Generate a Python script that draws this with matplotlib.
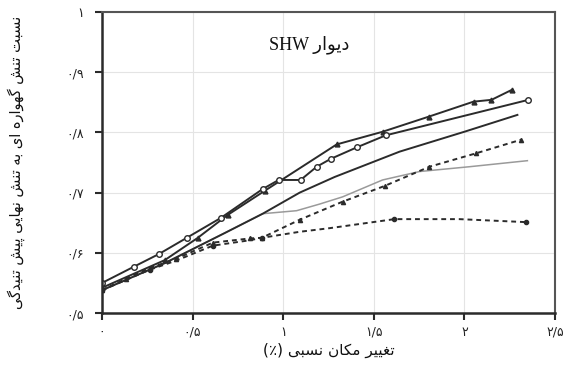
import matplotlib
matplotlib.use('Agg')
import matplotlib.pyplot as plt
from matplotlib.ticker import FuncFormatter, MultipleLocator

# Persian text: matplotlib has no contextual shaping, so letters are
# mapped to presentation forms (isolated, final, initial, medial) by hand.
FORMS = {
    'ا': ('\uFE8D', '\uFE8E', None, None),
    'د': ('\uFEA9', '\uFEAA', None, None),
    'ر': ('\uFEAD', '\uFEAE', None, None),
    'و': ('\uFEED', '\uFEEE', None, None),
    'ب': ('\uFE8F', '\uFE90', '\uFE91', '\uFE92'),
    'ت': ('\uFE95', '\uFE96', '\uFE97', '\uFE98'),
    'س': ('\uFEB1', '\uFEB2', '\uFEB3', '\uFEB4'),
    'ش': ('\uFEB5', '\uFEB6', '\uFEB7', '\uFEB8'),
    'غ': ('\uFECD', '\uFECE', '\uFECF', '\uFED0'),
    'م': ('\uFEE1', '\uFEE2', '\uFEE3', '\uFEE4'),
    'ن': ('\uFEE5', '\uFEE6', '\uFEE7', '\uFEE8'),
    'ه': ('\uFEE9', '\uFEEA', '\uFEEB', '\uFEEC'),
    'ی': ('\uFBFC', '\uFBFD', '\uFBFE', '\uFBFF'),
    'پ': ('\uFB56', '\uFB57', '\uFB58', '\uFB59'),
    'گ': ('\uFB92', '\uFB93', '\uFB94', '\uFB95'),
    'ک': ('\uFB8E', '\uFB8F', '\uFB90', '\uFB91'),
}


def fa(text):
    out = []
    for i, ch in enumerate(text):
        if ch not in FORMS:
            out.append(ch)
            continue
        prev = text[i - 1] if i > 0 else ''
        nxt = text[i + 1] if i + 1 < len(text) else ''
        join_prev = prev in FORMS and FORMS[prev][2] is not None
        join_next = FORMS[ch][2] is not None and nxt in FORMS
        iso, fin, ini, med = FORMS[ch]
        if join_prev and join_next:
            out.append(med)
        elif join_prev:
            out.append(fin)
        elif join_next:
            out.append(ini)
        else:
            out.append(iso)
    return ''.join(out)[::-1]


FA_DIGITS = str.maketrans('0123456789.', '۰۱۲۳۴۵۶۷۸۹/')


def fa_num(v, pos=None):
    return f'{v:g}'.translate(FA_DIGITS)


# data (relative drift %, rocking / ultimate prestress ratio)
x_tri = [0, 0.347, 0.529, 0.694, 0.898, 1.295, 1.548, 1.802, 2.050, 2.149, 2.264]
y_tri = [0.542, 0.588, 0.625, 0.663, 0.703, 0.780, 0.801, 0.826, 0.851, 0.854, 0.871]

x_circ = [0, 0.176, 0.314, 0.468, 0.656, 0.887, 0.975, 1.096, 1.185, 1.262, 1.405, 1.565, 2.353]
y_circ = [0.550, 0.577, 0.598, 0.625, 0.658, 0.706, 0.721, 0.721, 0.743, 0.756, 0.775, 0.795, 0.854]

x_solid = [0, 0.347, 0.678, 0.887, 1.091, 1.284, 1.642, 1.999, 2.292]
y_solid = [0.538, 0.583, 0.633, 0.665, 0.700, 0.726, 0.768, 0.801, 0.829]

x_grey = [0, 0.347, 0.678, 0.887, 1.074, 1.201, 1.328, 1.548, 1.752, 2.028, 2.347]
y_grey = [0.538, 0.583, 0.633, 0.665, 0.670, 0.681, 0.693, 0.721, 0.735, 0.743, 0.753]

x_dash1 = [0, 0.132, 0.264, 0.408, 0.612, 0.817, 0.882, 1.091, 1.328, 1.559, 1.807, 2.061, 2.314]
y_dash1 = [0.538, 0.557, 0.575, 0.590, 0.617, 0.624, 0.625, 0.655, 0.685, 0.711, 0.743, 0.765, 0.788]

x_dash2 = [0, 0.132, 0.264, 0.408, 0.612, 0.817, 0.882, 1.091, 1.256, 1.614, 1.972, 2.342]
y_dash2 = [0.538, 0.555, 0.572, 0.587, 0.612, 0.621, 0.625, 0.635, 0.641, 0.656, 0.656, 0.651]

dark = '#2b2b2b'

fig = plt.figure(figsize=(5.63, 3.71), dpi=100)
ax = fig.add_axes([0.181, 0.156, 0.805, 0.812])

ax.plot(x_grey, y_grey, color='#9a9a9a', lw=1.1)
ax.plot(x_solid, y_solid, color=dark, lw=1.4)
ax.plot(x_tri, y_tri, color=dark, lw=1.4, marker='^', ms=3.5, mfc=dark, mec=dark)
ax.plot(x_circ, y_circ, color=dark, lw=1.4, marker='o', ms=4, mfc='white', mec=dark, mew=1)
ax.plot(x_dash1, y_dash1, color=dark, lw=1.4, ls=(0, (2.5, 2)), marker='^', ms=3, mfc=dark, mec=dark)
ax.plot(x_dash2, y_dash2, color=dark, lw=1.4, ls=(0, (2.5, 2)), marker='o', ms=3, mfc=dark, mec=dark,
        markevery=[0, 2, 4, 6, 9, 11])

ax.set_xlim(0, 2.5)
ax.set_ylim(0.5, 1.0)
ax.xaxis.set_major_locator(MultipleLocator(0.5))
ax.yaxis.set_major_locator(MultipleLocator(0.1))
ax.xaxis.set_major_formatter(FuncFormatter(fa_num))
ax.yaxis.set_major_formatter(FuncFormatter(fa_num))
ax.grid(True, color='#e4e4e4', lw=0.8)
ax.set_axisbelow(True)

for side in ['left', 'bottom']:
    ax.spines[side].set_color(dark)
    ax.spines[side].set_linewidth(1.8)
for side in ['top', 'right']:
    ax.spines[side].set_color('#555555')
    ax.spines[side].set_linewidth(1.5)

ax.tick_params(axis='both', direction='out', length=5, width=1.5, color=dark,
               labelsize=9, labelcolor='#222222')
ax.tick_params(axis='x', pad=4)
ax.tick_params(axis='y', pad=8)

ax.text(1.146, 0.946, 'SHW ' + fa('دیوار'), ha='center', va='center', fontsize=13,
        family=['Liberation Serif', 'DejaVu Sans'], color='#111111')

ax.set_xlabel('(٪) ' + fa('تغییر مکان نسبی'), fontsize=11, labelpad=3, color='#111111')
ax.set_ylabel(fa('نسبت تنش گهواره ای به تنش نهایی پیش تنیدگی'), fontsize=10.5,
              labelpad=30, color='#111111')

fig.savefig('out.png', dpi=100)
